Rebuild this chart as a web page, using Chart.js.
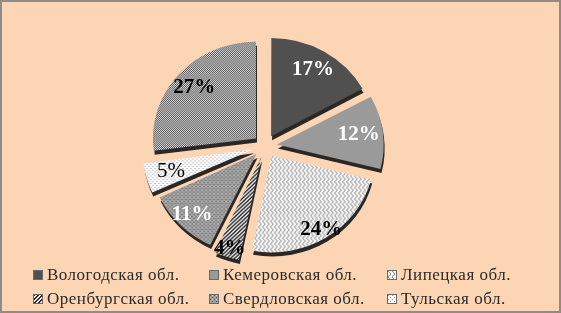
<!DOCTYPE html>
<html>
<head>
<meta charset="utf-8">
<script src="https://cdn.jsdelivr.net/npm/chart.js@4/dist/chart.umd.min.js"></script>
<style>
  body { margin: 0; background: #fcd5b5; }
  #wrap { position: relative; width: 561px; height: 313px; background: #fcd5b5; overflow: hidden; }
  #box { position: absolute; left: 0; top: 0; width: 561px; height: 280px; }
  #frame { position: absolute; left: 0; top: 0; width: 561px; height: 313px; box-sizing: border-box; border: 2px solid #8c8c8c; pointer-events: none; }
  #legend { position: absolute; left: 0; top: 265px; width: 561px; font-family: 'Liberation Serif', serif; font-size: 17px; letter-spacing: 0.5px; color: #2a2a2a; }
  .item { position: absolute; white-space: nowrap; line-height: 20px; }
  .sw { display: inline-block; width: 8px; height: 8px; border: 1px solid #6a6a6a; margin-right: 4px; vertical-align: 0px; }
</style>
</head>
<body>
<div id="wrap">
  <div id="box"><canvas id="graficoRegioes"></canvas></div>
  <div id="legend"></div>
  <div id="frame"></div>
</div>
<script>
// доли регионов, %
const regioes = ['Вологодская обл.', 'Кемеровская обл.', 'Липецкая обл.',
                 'Оренбургская обл.', 'Свердловская обл.', 'Тульская обл.', 'Прочие'];
const valores = [17, 12, 24, 4, 11, 5, 27];
const rotulos = ['17%', '12%', '24%', '4%', '11%', '5%', '27%'];
const corTexto = ['#fff', '#fff', '#000', '#000', '#fff', '#000', '#000'];
const negrito = [true, true, true, true, true, false, true];

function padrao(w, h, fundo, desenha) {
    const c = document.createElement('canvas');
    c.width = w; c.height = h;
    const g = c.getContext('2d');
    g.fillStyle = fundo;
    g.fillRect(0, 0, w, h);
    if (desenha) desenha(g);
    return c;
}

const tiles = [
    padrao(4, 4, '#505050'),
    padrao(4, 4, '#9a9a9a'),
    padrao(4, 6, '#f4f4f4', g => {
        g.fillStyle = '#8a8a8a';
        g.fillRect(0, 0, 1, 1); g.fillRect(1, 1, 1, 1); g.fillRect(2, 2, 1, 1);
        g.fillRect(2, 3, 1, 1); g.fillRect(1, 4, 1, 1); g.fillRect(0, 5, 1, 1);
    }),
    padrao(4, 4, '#eeeeee', g => {
        g.fillStyle = '#2a2a2a';
        for (let k = 0; k < 4; k++) {
            g.fillRect((3 - k + 4) % 4, k, 1, 1);
            g.fillRect((4 - k + 4) % 4, k, 1, 1);
        }
    }),
    padrao(4, 4, '#a0a0a0', g => {
        g.fillStyle = '#555';
        g.fillRect(0, 0, 1, 1); g.fillRect(2, 2, 1, 1);
        g.fillStyle = '#cccccc';
        g.fillRect(2, 0, 1, 1);
    }),
    padrao(4, 4, '#fbfbfb', g => {
        g.fillStyle = '#9a9a9a';
        g.fillRect(0, 0, 1, 1); g.fillRect(2, 2, 1, 1);
    }),
    padrao(2, 2, '#e6e6e6', g => {
        g.fillStyle = '#4a4a4a';
        g.fillRect(0, 0, 1, 1); g.fillRect(1, 1, 1, 1);
    })
];

const ctx = document.getElementById('graficoRegioes');
const c2d = ctx.getContext('2d');
const cores = tiles.map(t => c2d.createPattern(t, 'repeat'));

// Chart.js сдвигает сектор на offset/4
const OFFSET = 48;
const NAKLON = 0.94; // сжатие по вертикали (наклон объёмной диаграммы)

const volume3d = {
    id: 'volume3d',
    beforeDatasetsDraw(chart) {
        const g = chart.ctx;
        const arc = chart.getDatasetMeta(0).data[0];
        g.save();
        g.translate(arc.x, arc.y);
        g.scale(1, NAKLON);
        g.translate(-arc.x, -arc.y);
        g.shadowColor = 'rgba(20,20,20,0.9)';
        g.shadowOffsetX = 1;
        g.shadowOffsetY = 4;
        g.shadowBlur = 0;
    },
    afterDatasetsDraw(chart) {
        const g = chart.ctx;
        g.restore();
        const meta = chart.getDatasetMeta(0);
        meta.data.forEach((arc, i) => {
            const p = arc.getProps(['x', 'y', 'startAngle', 'endAngle', 'outerRadius']);
            const a = (p.startAngle + p.endAngle) / 2;
            // нижние (ближние) секторы в перспективе — подпись ближе к краю
            let k = 0.8 + 0.12 * Math.max(0, Math.sin(a));
            if (valores[i] < 5) k += 0.08;
            const r = OFFSET / 4 + p.outerRadius * k;
            g.save();
            g.font = (negrito[i] ? 'bold ' : '') + '21px "Liberation Serif", serif';
            g.fillStyle = corTexto[i];
            g.textAlign = 'center';
            g.textBaseline = 'middle';
            g.fillText(rotulos[i], p.x + Math.cos(a) * r, p.y + Math.sin(a) * r * NAKLON);
            g.restore();
        });
    }
};

new Chart(ctx, {
    type: 'pie',
    data: {
        labels: regioes,
        datasets: [{
            data: valores,
            backgroundColor: cores,
            borderWidth: 0,
            offset: OFFSET,
            hoverOffset: OFFSET,
            clip: false
        }]
    },
    options: {
        responsive: true,
        maintainAspectRatio: false,
        animation: false,
        layout: {
            padding: { top: 19, bottom: 7, left: 0, right: 31 }
        },
        plugins: {
            legend: { display: false },
            tooltip: { enabled: false }
        }
    },
    plugins: [volume3d]
});

// легенда: 6 подписей в три колонки
const colX = [33, 209, 387];
const rowY = [0, 24];
const legend = document.getElementById('legend');
regioes.slice(0, 6).forEach((nome, i) => {
    const d = document.createElement('div');
    d.className = 'item';
    d.style.left = colX[i % 3] + 'px';
    d.style.top = rowY[Math.floor(i / 3)] + 'px';
    const sw = document.createElement('span');
    sw.className = 'sw';
    sw.style.backgroundImage = 'url(' + tiles[i].toDataURL() + ')';
    d.appendChild(sw);
    d.appendChild(document.createTextNode(nome));
    legend.appendChild(d);
});
</script>
</body>
</html>
